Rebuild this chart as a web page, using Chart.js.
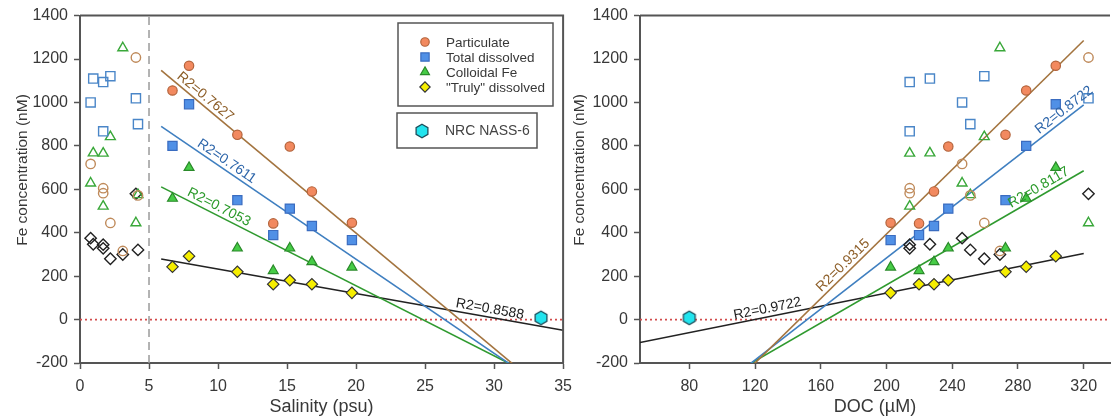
<!DOCTYPE html>
<html>
<head>
<meta charset="utf-8">
<script src="https://cdn.jsdelivr.net/npm/chart.js@4.4.1/dist/chart.umd.min.js"></script>
<style>
  html, body { margin: 0; padding: 0; background: #fff; overflow: hidden; }
  #wrap { position: relative; width: 1118px; height: 419px; }
  canvas { position: absolute; top: 0; }
  #left { left: 0; }
  #right { left: 565px; }
</style>
</head>
<body>
<div id="wrap">
  <canvas id="left" width="580" height="419"></canvas>
  <canvas id="right" width="553" height="419"></canvas>
</div>
<script>
'use strict';

// ─── Data ────────────────────────────────────────────────────────────────────
// estuarine samples (filled symbols, used for the regressions)
const salinity       = [6.7, 7.9, 11.4, 14.0, 15.2, 16.8, 19.7];
const doc            = [285, 303, 272.4, 219.8, 237.6, 228.9, 202.5];
const particulate    = [1055, 1169, 851, 443, 797, 590, 446];
const totalDissolved = [800, 992, 550, 389, 511, 431, 366];
const colloidal      = [558, 700, 329, 225, 329, 266, 241];
const trulyDissolved = [243, 292, 220, 163, 181, 163, 123];

// low-salinity samples (open symbols)
const lowSalinity    = [0.77, 0.96, 1.68, 1.68, 2.2, 4.05, 4.2, 3.1];
const lowDoc         = [246, 226.4, 214.1, 214.1, 259.5, 322.9, 251, 269];
const lowParticulate = [717, null, 605, 582, 445, 1207, 572, 316];
const lowTotal       = [1000, 1110, 1094, 867, 1121, 1019, 900, null];
const lowColloidal   = [628, 767, 766, 522, 842, 445, 575, 1251];
const lowTruly       = [375, 347, 328, 345, 280, 579, 321, 300];

// reference material NRC NASS-6
const nassSalinity = [33.4];
const nassDoc      = [80];
const nassFe       = [8];

const r2Salinity = ['R2=0.7627', 'R2=0.7611', 'R2=0.7053', 'R2=0.8588'];
const r2Doc      = ['R2=0.9315', 'R2=0.8722', 'R2=0.8117', 'R2=0.9722'];

const feTicks  = [-200, 0, 200, 400, 600, 800, 1000, 1200, 1400];
const salTicks = [0, 5, 10, 15, 20, 25, 30, 35];
const docTicks = [80, 120, 160, 200, 240, 280, 320];

// ─── Styling ─────────────────────────────────────────────────────────────────
const FONT = '"Liberation Sans", Arial, sans-serif';
const TXT = '#383838';
const AXIS = '#555';

const SERIES = [
  { name: 'Particulate',       style: 'circle',  r: 4.7, fill: '#f2895f', edge: '#b4643c', open: '#bf8a5a', line: '#a3743f', text: '#8d5e28' },
  { name: 'Total dissolved',   style: 'rect',    r: 6.5, fill: '#5090e6', edge: '#3a6cc0', open: '#4a86c8', line: '#3f7fc0', text: '#2e66aa' },
  { name: 'Colloidal Fe',      style: 'triangle',r: 5.7, fill: '#46cc46', edge: '#2a8a2a', open: '#3aa83a', line: '#2f9a2f', text: '#2a9a2a' },
  { name: '"Truly" dissolved', style: 'rectRot', r: 5.7, fill: '#f6ee00', edge: '#333333', open: '#222222', line: '#222222', text: '#222222' },
];

// ─── Helpers ─────────────────────────────────────────────────────────────────
function pts(xs, ys) {
  return xs.map((x, i) => (ys[i] == null ? null : { x, y: ys[i] })).filter(Boolean);
}

function linFit(xs, ys) {
  const n = xs.length;
  const mx = xs.reduce((a, b) => a + b, 0) / n;
  const my = ys.reduce((a, b) => a + b, 0) / n;
  let sxy = 0, sxx = 0;
  xs.forEach((x, i) => { sxy += (x - mx) * (ys[i] - my); sxx += (x - mx) * (x - mx); });
  const slope = sxy / sxx;
  return x => my + slope * (x - mx);
}

function hexImage(r, fill, stroke) {
  const s = Math.ceil(2 * r + 4);
  const c = document.createElement('canvas');
  c.width = s; c.height = s;
  const g = c.getContext('2d');
  g.beginPath();
  for (let i = 0; i < 6; i++) {
    const a = -Math.PI / 2 + i * Math.PI / 3;
    const px = s / 2 + r * Math.cos(a), py = s / 2 + r * Math.sin(a);
    i ? g.lineTo(px, py) : g.moveTo(px, py);
  }
  g.closePath();
  g.fillStyle = fill; g.fill();
  g.lineWidth = 1.3; g.strokeStyle = stroke; g.stroke();
  return c;
}
const HEX = hexImage(6.8, '#22e4ee', '#1d4f5c');

// ─── Datasets ────────────────────────────────────────────────────────────────
const seriesVals = [particulate, totalDissolved, colloidal, trulyDissolved];
const lowVals    = [lowParticulate, lowTotal, lowColloidal, lowTruly];

function buildDatasets(xs, lowXs, refXs, lineFrom, lineTo, xMin, xMax) {
  const sets = [];
  SERIES.forEach((s, i) => {
    sets.push({
      data: pts(xs, seriesVals[i]), pointStyle: s.style, pointRadius: s.r,
      backgroundColor: s.fill, borderColor: s.edge, pointBorderWidth: 1.2, showLine: false, order: 0,
    });
    sets.push({
      data: pts(lowXs, lowVals[i]), pointStyle: s.style, pointRadius: s.r,
      backgroundColor: 'rgba(0,0,0,0)', borderColor: s.open, pointBorderWidth: 1.4, showLine: false, order: 1,
    });
  });
  sets.push({ data: pts(refXs, nassFe), pointStyle: HEX, pointRadius: 7, showLine: false, order: 0 });

  const fits = SERIES.map((s, i) => {
    const f = linFit(xs, seriesVals[i]);
    sets.push({
      data: [{ x: lineFrom, y: f(lineFrom) }, { x: lineTo, y: f(lineTo) }],
      showLine: true, borderColor: s.line, borderWidth: 1.6, pointRadius: 0, order: 2,
    });
    return f;
  });

  sets.push({
    data: [{ x: xMin, y: 0 }, { x: xMax, y: 0 }], showLine: true, borderColor: '#d24c4c',
    borderWidth: 1.6, borderDash: [2, 3], pointRadius: 0, order: 3,
  });
  return { sets, fits };
}

// ─── Plugins ─────────────────────────────────────────────────────────────────
function r2Plugin(items) {
  return {
    id: 'r2Labels',
    afterDatasetsDraw(chart) {
      const { ctx, scales: { x, y } } = chart;
      ctx.save();
      ctx.font = '14px ' + FONT;
      ctx.textAlign = 'center';
      ctx.textBaseline = 'bottom';
      items.forEach(it => {
        const x0 = x.getPixelForValue(it.at - 1), y0 = y.getPixelForValue(it.fit(it.at - 1));
        const x1 = x.getPixelForValue(it.at + 1), y1 = y.getPixelForValue(it.fit(it.at + 1));
        const px = x.getPixelForValue(it.at), py = y.getPixelForValue(it.fit(it.at));
        ctx.save();
        ctx.translate(px, py);
        ctx.rotate(Math.atan2(y1 - y0, x1 - x0));
        ctx.fillStyle = it.color;
        ctx.fillText(it.text, 0, -1);
        ctx.restore();
      });
      ctx.restore();
    }
  };
}

// top (and right) frame lines plus the rotated y title
function framePlugin(drawRight, titleX) {
  return {
    id: 'frame',
    afterDraw(chart) {
      const { ctx, chartArea: a } = chart;
      ctx.save();
      ctx.strokeStyle = AXIS;
      ctx.lineWidth = 2;
      ctx.beginPath();
      ctx.moveTo(a.left, a.top);
      ctx.lineTo(a.right, a.top);
      if (drawRight) ctx.lineTo(a.right, a.bottom);
      ctx.stroke();

      ctx.translate(titleX, 170);
      ctx.rotate(-Math.PI / 2);
      ctx.font = '15.5px ' + FONT;
      ctx.fillStyle = TXT;
      ctx.textAlign = 'center';
      ctx.textBaseline = 'middle';
      ctx.fillText('Fe concentration (nM)', 0, 0);
      ctx.restore();
    }
  };
}

const legendBox = {
  id: 'legendBox',
  afterDraw(chart) {
    const ctx = chart.ctx;
    ctx.save();
    ctx.strokeStyle = '#555';
    ctx.lineWidth = 1.5;
    ctx.fillStyle = '#fff';
    ctx.fillRect(398, 23, 155, 83);
    ctx.strokeRect(398, 23, 155, 83);
    ctx.fillRect(397, 113, 140, 35);
    ctx.strokeRect(397, 113, 140, 35);

    ctx.font = '13.5px ' + FONT;
    ctx.textBaseline = 'middle';
    const rows = [42, 57, 72, 87];
    SERIES.forEach((s, i) => {
      ctx.fillStyle = s.fill;
      ctx.strokeStyle = s.edge;
      ctx.lineWidth = 1.2;
      Chart.helpers.drawPoint(ctx, { pointStyle: s.style, radius: s.r * 0.9, borderWidth: 1.2, rotation: 0 }, 425, rows[i]);
      ctx.fillStyle = TXT;
      ctx.fillText(s.name, 446, rows[i] + 1);
    });
    ctx.drawImage(HEX, 422 - HEX.width / 2, 131 - HEX.height / 2);
    ctx.fillStyle = '#444';
    ctx.font = '14px ' + FONT;
    ctx.fillText('NRC NASS-6', 445, 131);
    ctx.restore();
  }
};

// ─── Chart options ───────────────────────────────────────────────────────────
function axis(cfg) {
  return Object.assign({
    type: 'linear',
    grid: { display: true, drawOnChartArea: false, drawTicks: true, tickLength: 6, tickColor: AXIS, tickWidth: 1.5 },
    border: { display: true, color: AXIS, width: 2 },
  }, cfg);
}

function makeChart(canvasId, built, opts) {
  return new Chart(document.getElementById(canvasId), {
    type: 'scatter',
    data: { datasets: built.sets.concat(opts.extraSets || []) },
    options: {
      responsive: false,
      animation: false,
      events: [],
      layout: { padding: opts.padding },
      plugins: { legend: { display: false }, tooltip: { enabled: false } },
      scales: {
        x: axis({
          min: opts.xMin, max: opts.xMax,
          afterBuildTicks: sc => { sc.ticks = opts.xTicks.map(v => ({ value: v })); },
          afterFit: sc => { sc.height = 56; },
          ticks: { color: TXT, font: { family: FONT, size: 16 }, padding: 8, maxRotation: 0, callback: v => String(v) },
          title: { display: true, text: opts.xTitle, color: TXT, font: { family: FONT, size: 18 }, padding: { bottom: 1 } },
        }),
        y: axis({
          min: -200, max: 1400,
          afterBuildTicks: sc => { sc.ticks = feTicks.map(v => ({ value: v })); },
          afterFit: sc => { sc.width = opts.yWidth; },
          ticks: { color: TXT, font: { family: FONT, size: 16 }, padding: 6, callback: v => String(v) },
        }),
      },
    },
    plugins: opts.plugins,
  });
}

// ─── Left: salinity ──────────────────────────────────────────────────────────
const leftBuilt = buildDatasets(salinity, lowSalinity, nassSalinity, 5.88, 35, 0, 35);
makeChart('left', leftBuilt, {
  padding: { top: 15, right: 15, left: 0, bottom: 0 },
  xMin: 0, xMax: 35, xTicks: salTicks, xTitle: 'Salinity (psu)',
  yWidth: 80,
  extraSets: [{
    data: [{ x: 5, y: -200 }, { x: 5, y: 1400 }], showLine: true, borderColor: '#9a9a9a',
    borderWidth: 1.5, borderDash: [8, 5], pointRadius: 0, order: 4,
  }],
  plugins: [
    r2Plugin([
      { at: 8.7,  fit: leftBuilt.fits[0], text: r2Salinity[0], color: SERIES[0].text },
      { at: 10.3, fit: leftBuilt.fits[1], text: r2Salinity[1], color: SERIES[1].text },
      { at: 9.8,  fit: leftBuilt.fits[2], text: r2Salinity[2], color: SERIES[2].text },
      { at: 29.6, fit: leftBuilt.fits[3], text: r2Salinity[3], color: SERIES[3].text },
    ]),
    framePlugin(true, 23),
    legendBox,
  ],
});

// ─── Right: DOC ──────────────────────────────────────────────────────────────
const rightBuilt = buildDatasets(doc, lowDoc, nassDoc, 50, 320, 50, 336);
makeChart('right', rightBuilt, {
  padding: { top: 15, right: 0, left: 0, bottom: 0 },
  xMin: 50, xMax: 336, xTicks: docTicks, xTitle: 'DOC (\u00b5M)',
  yWidth: 75,
  plugins: [
    r2Plugin([
      { at: 177,   fit: rightBuilt.fits[0], text: r2Doc[0], color: SERIES[0].text },
      { at: 311,   fit: rightBuilt.fits[1], text: r2Doc[1], color: SERIES[1].text },
      { at: 295,   fit: rightBuilt.fits[2], text: r2Doc[2], color: SERIES[2].text },
      { at: 128.5, fit: rightBuilt.fits[3], text: r2Doc[3], color: SERIES[3].text },
    ]),
    framePlugin(false, 15),
  ],
});
</script>
</body>
</html>
